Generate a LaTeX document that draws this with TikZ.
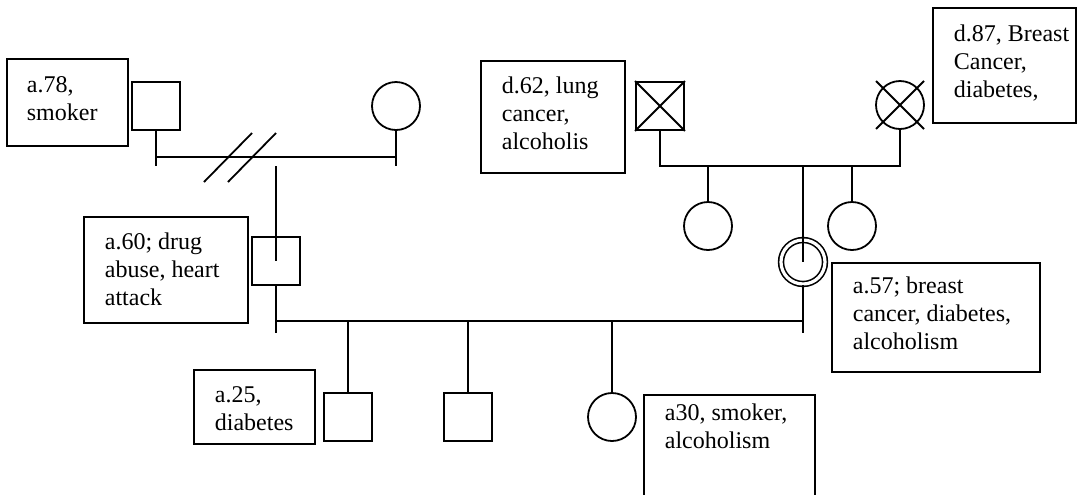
\documentclass[tikz,border=0pt]{standalone}
\usepackage{fontspec}
\setmainfont{Liberation Serif}
\begin{document}
\begin{tikzpicture}[x=0.5pt, y=-0.5pt, line width=0.9pt]

      \useasboundingbox (0,0) rectangle (1077,494);

      % generation lines
      \coordinate (pline) at (0,157);
      \coordinate (pstub) at (0,166);
      \coordinate (mline) at (0,166);
      \coordinate (sline) at (0,321);
      \coordinate (sstub) at (0,333);

      \begin{scope}[every node/.style={draw,inner sep=0pt,minimum size=24pt}]
        \node[rectangle] (pgf) at (156,106) {};
        \node[circle]    (pgm) at (396,106) {};
        \node[rectangle] (mgf) at (660,106) {};
        \node[circle]    (mgm) at (900,105) {};
        \node[rectangle] (fat) at (276,261) {};
        \node[circle]    (au1) at (708,226) {};
        \node[circle]    (au2) at (852,226) {};
        \node[rectangle] (ch1) at (348,417) {};
        \node[rectangle] (ch2) at (468,417) {};
        \node[circle]    (ch3) at (612,417) {};
        \node[circle,double,double distance=1.6pt,line width=0.8pt,minimum size=22pt] (mot) at (803,262) {};
      \end{scope}

      % deceased
      \draw (mgf.north west) -- (mgf.south east);
      \draw (mgf.south west) -- (mgf.north east);
      \draw ([shift={(-24,-24)}]mgm.center) -- ([shift={(24,24)}]mgm.center);
      \draw ([shift={(-24,24)}]mgm.center) -- ([shift={(24,-24)}]mgm.center);

      % father's parents, separated
      \draw (pgf.south) -- (pgf |- pstub);
      \draw (pgm.south) -- (pgm |- pstub);
      \draw (pgf |- pline) -- (pgm |- pline);
      \draw (204,182) -- (252,133);
      \draw (228,182) -- (276,133);
      \draw (fat |- pstub) -- (fat.center);

      % mother's parents
      \draw (mgf.south) -- (mgf |- mline) -- (mgm |- mline) -- (mgm.south);
      \draw (au1 |- mline) -- (au1.north);
      \draw (au2 |- mline) -- (au2.north);
      \draw (mot |- mline) -- (mot.center);

      % parents and children
      \draw (fat.south) -- (fat |- sstub);
      \draw (mot.south) -- (mot |- sstub);
      \draw (fat |- sline) -- (mot |- sline);
      \draw (ch1 |- sline) -- (ch1.north);
      \draw (ch2 |- sline) -- (ch2.north);
      \draw (ch3 |- sline) -- (ch3.north);

      \begin{scope}[every node/.style={draw,rectangle,anchor=north west,inner sep=0pt}]
        \node[minimum width=60.5pt,minimum height=43.5pt] (b78) at (6,58)    {};
        \node[minimum width=82pt,minimum height=53pt]     (b60) at (83,216)  {};
        \node[minimum width=72pt,minimum height=56pt]     (b62) at (480,60)  {};
        \node[minimum width=71.5pt,minimum height=57.5pt] (b87) at (932,7)   {};
        \node[minimum width=104pt,minimum height=54.5pt]  (b57) at (831,262) {};
        \node[minimum width=60.5pt,minimum height=37pt]   (b25) at (193,369) {};
        \node[minimum width=85.5pt,minimum height=56pt]   (b30) at (643,394) {};
      \end{scope}

      % texts, placed by the baseline of their last line
      \begin{scope}[every node/.style={anchor=base west,align=left,inner sep=0pt,font=\fontsize{12pt}{13.8pt}\selectfont}]
        \node (t78) at (26,120)  {a.78,\\smoker};
        \node (t60) at (104,305) {a.60; drug\\abuse, heart\\attack};
        \node (t62) at (501,149) {d.62, lung\\cancer,\\alcoholis};
        \node (t87) at (953,97)  {d.87, Breast\\Cancer,\\diabetes,};
        \node (t57) at (852,349) {a.57; breast\\cancer, diabetes,\\alcoholism};
        \node (t25) at (214,430) {a.25,\\diabetes};
        \node (t30) at (664,448) {a30, smoker,\\alcoholism};
      \end{scope}

    \end{tikzpicture}
\end{document}
